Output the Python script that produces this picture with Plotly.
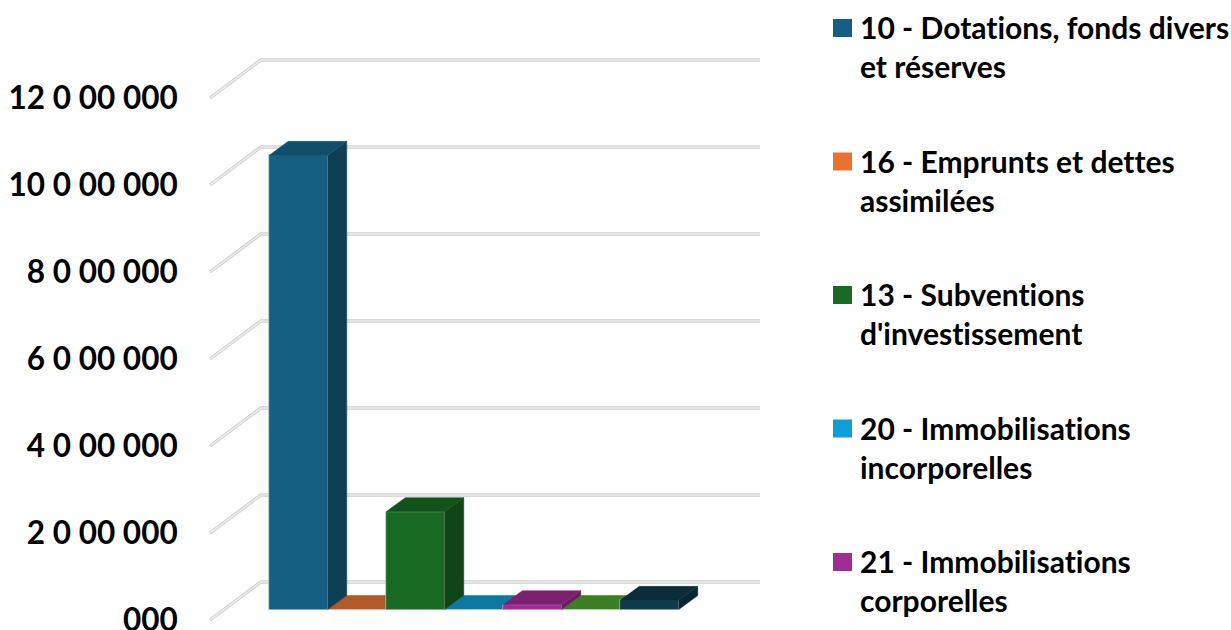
import plotly.graph_objects as go

# ---- data ----
BAR_POSITIONS = [0, 1, 2, 3, 4, 5, 6]
BAR_VALUES = [10440000, 0, 2250000, 0, 110000, 0, 210000]
FRONT_COLORS = ["#156082", "#E97132", "#196B24", "#0F9ED5", "#A02B93", "#4EA72E", "#0D3A4E"]
TOP_COLORS = ["#114E69", "#B25A27", "#14521C", "#0C79A4", "#7B2170", "#3C8023", "#0A2C3B"]
SIDE_COLORS = ["#0E3F55", "#96491F", "#104517", "#0A6488", "#691C60", "#336D1E", "#082632"]
TICK_VALUES = [0, 2000000, 4000000, 6000000, 8000000, 10000000, 12000000]
TICK_LABELS = ["000", "2 0 00 000", "4 0 00 000", "6 0 00 000", "8 0 00 000", "10 0 00 000", "12 0 00 000"]
LEGEND_LABELS = [
    "10 - Dotations, fonds divers<br>et réserves",
    "16 - Emprunts et dettes<br>assimilées",
    "13 - Subventions<br>d'investissement",
    "20 - Immobilisations<br>incorporelles",
    "21 - Immobilisations<br>corporelles",
]

# ---- layout constants (pixels of the 1231x630 page) ----
W, H = 1231, 630
L, R, T, B = 186, 770, 30, 630
PX_PER_CAT = 58.5
CAT0_PX = 298.5
PX_PER_UNIT = 87 / 2000000
ZERO_PX = 620

XRANGE = [(L - CAT0_PX) / PX_PER_CAT, (R - CAT0_PX) / PX_PER_CAT]
YRANGE = [(ZERO_PX - B) / PX_PER_UNIT, (ZERO_PX - T) / PX_PER_UNIT]

BAR_LIFT = 10.5 / PX_PER_UNIT         # bars stand a little behind the front plane
DEPTH_X = 19 / PX_PER_CAT
DEPTH_Y = 14 / PX_PER_UNIT
GRID_FRONT_X = (210 - CAT0_PX) / PX_PER_CAT
GRID_WALL_X = (261 - CAT0_PX) / PX_PER_CAT
GRID_END_X = (760 - CAT0_PX) / PX_PER_CAT
WALL_Y = 38 / PX_PER_UNIT
EDGE = "#D4D4D4"


def face(xs, ys, color, axes):
    return go.Scatter(x=xs, y=ys, mode="lines", fill="toself", fillcolor=color,
                      line=dict(color=color, width=0.5), hoverinfo="skip",
                      showlegend=False, xaxis=axes[0], yaxis=axes[1])


fig = go.Figure()

# flat bars lie on the lower layer, so that taller neighbours cover them
for px, v, tc, sc in zip(BAR_POSITIONS, BAR_VALUES, TOP_COLORS, SIDE_COLORS):
    axes = ("x", "y") if v == 0 else ("x2", "y2")
    x0, x1 = px - 0.5, px + 0.5
    y0, y1 = BAR_LIFT, BAR_LIFT + v
    if v > 0:
        fig.add_trace(face([x1, x1 + DEPTH_X, x1 + DEPTH_X, x1, x1],
                           [y0, y0 + DEPTH_Y, y1 + DEPTH_Y, y1, y0], sc, axes))
    fig.add_trace(face([x0, x0 + DEPTH_X, x1 + DEPTH_X, x1, x0],
                       [y1, y1 + DEPTH_Y, y1 + DEPTH_Y, y1, y1], tc, axes))

fig.add_trace(go.Bar(x=BAR_POSITIONS, y=BAR_VALUES, base=BAR_LIFT, width=1,
                     marker=dict(color=FRONT_COLORS, line=dict(color=EDGE, width=0.6)),
                     showlegend=False, xaxis="x2", yaxis="y2",
                     hovertemplate="%{y:,}<extra></extra>"))

# 3-D gridlines: floor-to-wall diagonal, then along the back wall
for tv in TICK_VALUES:
    path = (f"M {GRID_FRONT_X} {tv} L {GRID_WALL_X} {tv + WALL_Y} L {GRID_END_X} {tv + WALL_Y}")
    fig.add_shape(type="path", path=path, xref="x", yref="y", layer="below",
                  line=dict(color="#CFCFCF", width=3.4))
    fig.add_shape(type="path", path=path, xref="x", yref="y", layer="below",
                  line=dict(color="#EAEAEA", width=1.6))

# legend drawn to the reference's geometry (swatch beside the first line of each entry)
LEGEND_FONT = dict(family="Lato", size=30, color="#000000", weight=700)
ROW_STEP = 133.5
for i, (label, color) in enumerate(zip(LEGEND_LABELS, FRONT_COLORS)):
    first_line = 28 + i * ROW_STEP
    fig.add_shape(type="rect", xref="paper", yref="paper", line=dict(width=0), fillcolor=color,
                  x0=(833 - L) / (R - L), x1=(852 - L) / (R - L),
                  y0=(B - first_line - 9) / (B - T), y1=(B - first_line + 9) / (B - T))
    fig.add_annotation(text=label, xref="paper", yref="paper", showarrow=False,
                       x=(859 - L) / (R - L), y=(B - first_line - 18.5) / (B - T),
                       xanchor="left", yanchor="middle", align="left",
                       font=LEGEND_FONT, xshift=0, borderpad=0)

axis_off = dict(visible=False, fixedrange=True, automargin=False)
fig.update_layout(
    width=W, height=H, margin=dict(l=L, r=W - R, t=T, b=H - B, pad=0, autoexpand=False),
    paper_bgcolor="#FFFFFF", plot_bgcolor="#FFFFFF", showlegend=False, bargap=0,
    xaxis=dict(range=XRANGE, **axis_off),
    xaxis2=dict(range=XRANGE, overlaying="x", matches="x", **axis_off),
    yaxis=dict(range=YRANGE, tickmode="array", tickvals=TICK_VALUES, ticktext=TICK_LABELS,
               showgrid=False, zeroline=False, showline=False, fixedrange=True, automargin=False,
               ticks="outside", ticklen=1, tickcolor="rgba(0,0,0,0)", ticklabeloverflow="allow",
               tickfont=dict(family="Lato", size=31.5, color="#000000", weight=700)),
    yaxis2=dict(range=YRANGE, overlaying="y", matches="y", **axis_off),
)

fig.write_html(
    "out.html",
    config={"displayModeBar": False},
    post_script=(
        "document.body.style.margin='0';"
        "document.documentElement.style.overflow='hidden';"
        "var s=document.createElement('style');"
        "s.textContent=\"svg text,svg tspan{font-variant-ligatures:none;font-feature-settings:'liga' 0,'calt' 0}\";"
        "document.head.appendChild(s);"
    ),
)
